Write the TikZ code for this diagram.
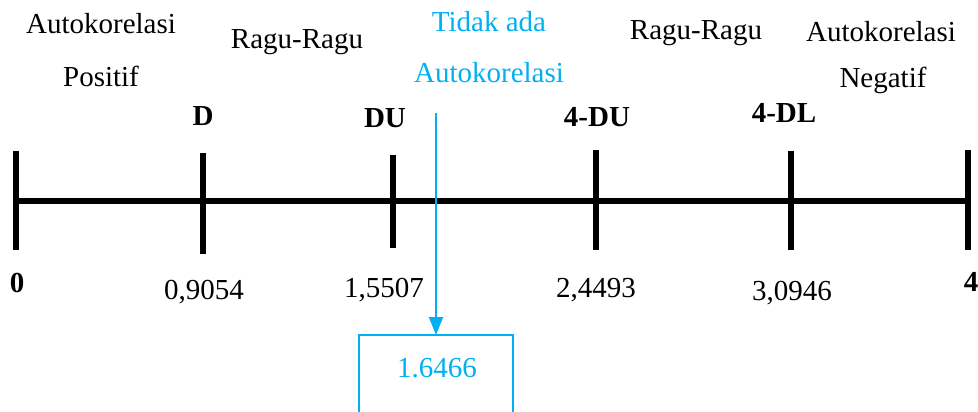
\documentclass[tikz,border=0pt]{standalone}
\usepackage{fontspec}
\setmainfont{Liberation Serif}
\usetikzlibrary{arrows.meta}
\definecolor{skyb}{RGB}{0,176,240}
\begin{document}
\begin{tikzpicture}[x=1pt,y=-1pt,
  lbl/.style={inner sep=0pt,anchor=center,font=\fontsize{29}{35}\selectfont},
  blbl/.style={lbl,font=\fontsize{29}{35}\selectfont\bfseries},
  tick/.style={line width=6pt},
  axis/.style={line width=5.5pt},
  blue/.style={draw=skyb,line width=2pt}]
\useasboundingbox (0,0) rectangle (978,412);
% axis
\coordinate (a0) at (16,201);
\coordinate (a4) at (971,201);
\draw[axis] (a0) -- (a4);
% ticks
\coordinate (t0t) at (16,151); \coordinate (t0b) at (16,250);
\coordinate (t1t) at (203,153); \coordinate (t1b) at (203,254);
\coordinate (t2t) at (393,155); \coordinate (t2b) at (393,248);
\coordinate (t3t) at (596,150); \coordinate (t3b) at (596,250);
\coordinate (t4t) at (791,151); \coordinate (t4b) at (791,250);
\coordinate (t5t) at (968,150); \coordinate (t5b) at (968,250);
\draw[tick] (t0t) -- (t0b);
\draw[tick] (t1t) -- (t1b);
\draw[tick] (t2t) -- (t2b);
\draw[tick] (t3t) -- (t3b);
\draw[tick] (t4t) -- (t4b);
\draw[tick] (t5t) -- (t5b);
% top texts
\node[lbl] (ap1) at (101,24) {Autokorelasi};
\node[lbl] (pos) at (101,76) {Positif};
\node[lbl] (rr1) at (297,42) {Ragu-Ragu};
\node[lbl,text=skyb] (tid) at (489,22) {Tidak ada};
\node[lbl,text=skyb] (ak2) at (489,73) {Autokorelasi};
\node[lbl] (rr2) at (696,33) {Ragu-Ragu};
\node[lbl] (ap3) at (881,32) {Autokorelasi};
\node[lbl] (neg) at (883,80) {Negatif};
% bold labels
\node[blbl] (lD) at (203,116) {D};
\node[blbl] (lDU) at (385,118) {DU};
\node[blbl] (l4DU) at (597,117) {4-DU};
\node[blbl] (l4DL) at (784,113) {4-DL};
% bottom values
\node[blbl] (v0) at (17,283) {0};
\node[lbl] (v1) at (204,292) {0,9054};
\node[lbl] (v2) at (384,290) {1,5507};
\node[lbl] (v3) at (596,290) {2,4493};
\node[lbl] (v4) at (792,293) {3,0946};
\node[blbl] (v5) at (971,282) {4};
% result box (open at the bottom)
\coordinate (bl) at (359,412);
\coordinate (br) at (513,412);
\coordinate (btl) at (359,335);
\coordinate (btr) at (513,335);
\draw[blue] (bl) -- (btl) -- (btr) -- (br);
\node[lbl,text=skyb] (val) at (437,368) {1.6466};
% arrow
\coordinate (astart) at (436,113);
\coordinate (aend) at (436,335);
\draw[blue,-{Triangle[length=18pt,width=14pt]}] (astart) -- (aend);
\end{tikzpicture}
\end{document}
